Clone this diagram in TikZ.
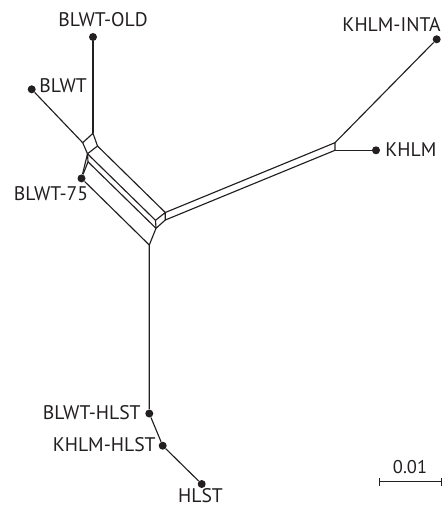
\documentclass[tikz,border=0pt]{standalone}
\usepackage{fontspec}
\setmainfont{PT Sans}
\definecolor{ink}{HTML}{231F20}
\tikzset{
  net/.style={draw=ink, line width=0.65pt, line join=round},
  taxon/.style={circle, fill=ink, inner sep=0pt, minimum size=1.6mm},
  lab/.style={text=ink, font=\fontsize{11.2}{13}\selectfont, inner sep=0pt},
}
\begin{document}
\begin{tikzpicture}[x=0.2mm, y=-0.2mm]
  \useasboundingbox (0,0) rectangle (442,507);

  % taxa
  \node[taxon] (old)   at (93,37)      {};
  \node[taxon] (blwt)  at (31.7,89.3)  {};
  \node[taxon] (b75)   at (81.5,178.4) {};
  \node[taxon] (inta)  at (436.7,39.3) {};
  \node[taxon] (khlm)  at (376,150.3)  {};
  \node[taxon] (bh)    at (149.3,413.5){};
  \node[taxon] (kh)    at (162.7,445.7){};
  \node[taxon] (hlst)  at (201.7,484)  {};

  % labels
  \node[lab] at (103,20)            {BLWT-OLD};
  \node[lab, anchor=west] at (39,86) {BLWT};
  \node[lab] at (51,194)            {BLWT-75};
  \node[lab, anchor=east] at (441,25) {KHLM-INTA};
  \node[lab, anchor=west] at (385,150) {KHLM};
  \node[lab, anchor=east] at (141,413) {BLWT-HLST};
  \node[lab, anchor=east] at (156,445) {KHLM-HLST};
  \node[lab] at (200.5,496)         {HLST};

  % internal vertices of the splits graph
  \coordinate (A)  at (93,133.3);
  \coordinate (B)  at (82.7,142.7);
  \coordinate (C)  at (87.5,153.8);
  \coordinate (D)  at (97.5,146);
  \coordinate (C2) at (88,161.8);
  \coordinate (P1) at (165.3,212.5);
  \coordinate (P2) at (155.5,220.3);
  \coordinate (P3) at (156,228.3);
  \coordinate (P4) at (165.3,220);
  \coordinate (Q)  at (149.3,245);
  \coordinate (K1) at (335,142.7);
  \coordinate (K2) at (335,150.3);

  % pendant edges
  \draw[net] (old) -- (A);
  \draw[net] (blwt) -- (B);
  \draw[net] (K1) -- (inta);
  \draw[net] (K2) -- (khlm);
  \draw[net] (Q) -- (bh) -- (kh) -- (hlst);

  % box near BLWT / BLWT-OLD
  \draw[net] (A) -- (B) -- (C) -- (D) -- cycle;

  % BLWT-75 double edge
  \draw[net] (b75) -- (C2) -- (C);
  \draw[net] (b75) -- (C);

  % parallel band down to the centre
  \draw[net] (D) -- (P1);
  \draw[net] (C) -- (P2);
  \draw[net] (C2) -- (P3);
  \draw[net] (b75) -- (Q);

  % small box at the centre
  \draw[net] (P1) -- (P2) -- (P3) -- (P4) -- cycle;
  \draw[net] (P3) -- (Q);

  % band towards KHLM
  \draw[net] (P1) -- (K1) -- (K2) -- (P4);

  % scale bar
  \coordinate (s0) at (379.3,481.7);
  \coordinate (s1) at (441.5,481.7);
  \draw[net] (s0) -- (s1);
  \draw[net] ([yshift=-0.8mm]s0) -- ([yshift=0.8mm]s0);
  \draw[net] ([yshift=-0.8mm]s1) -- ([yshift=0.8mm]s1);
  \node[lab, font=\fontsize{10.5}{12}\selectfont] at (410,467) {0.01};
\end{tikzpicture}
\end{document}
